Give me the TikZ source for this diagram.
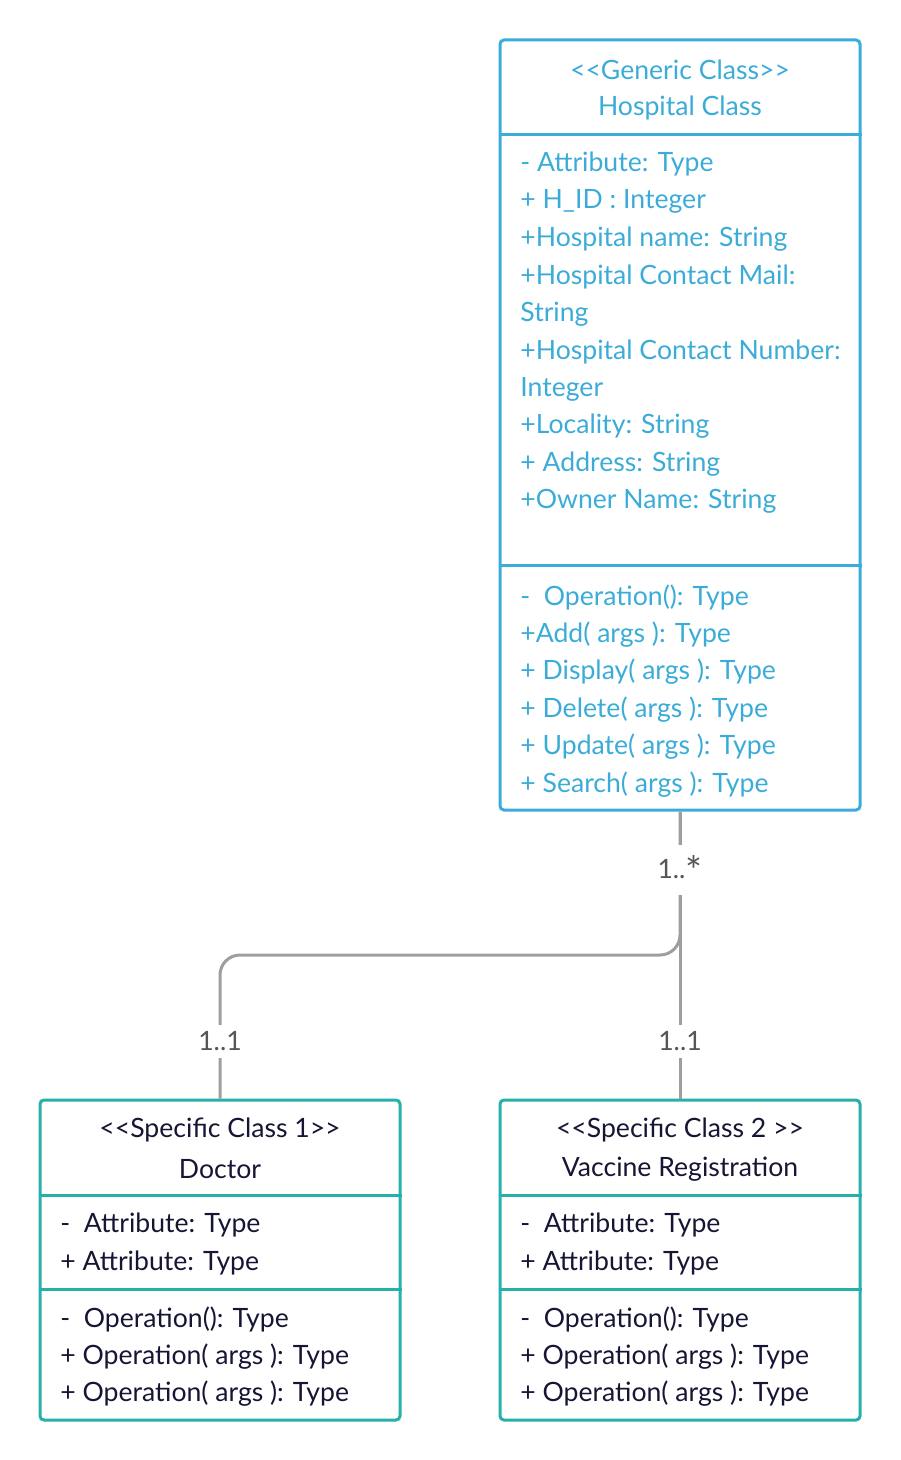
\documentclass[tikz,border=0pt]{standalone}
\usepackage{fontspec}
\setmainfont{Lato}
\usetikzlibrary{positioning}
\definecolor{hospblue}{RGB}{59,172,216}
\definecolor{clsteal}{RGB}{38,176,170}
\definecolor{inkdark}{RGB}{22,22,52}
\definecolor{linegrey}{RGB}{158,158,158}
\definecolor{labelgrey}{RGB}{85,85,85}
\newcommand{\bigstar}{\raisebox{-0.45ex}{\scalebox{1.5}{*}}}

\begin{document}
\begin{tikzpicture}[x=0.5pt,y=-0.5pt,
  classbox/.style={draw, line width=1.5pt, rounded corners=2pt, minimum width=180pt, inner sep=0pt},
  item/.style={anchor=west, inner sep=0pt, font=\fontsize{13.3}{16}\selectfont},
  title/.style={inner sep=0pt, font=\fontsize{13.3}{16}\selectfont},
  divider/.style={line width=1.5pt},
  assoc/.style={draw=linegrey, line width=1.5pt},
  mult/.style={fill=white, text=labelgrey, inner sep=0pt, minimum width=30pt, font=\fontsize{13.3}{16}\selectfont}]
\useasboundingbox (0,0) rectangle (900,1460);

% generic class
\node[classbox, draw=hospblue, minimum height=385pt] (hosp) at (680,425) {};
\draw[divider, hospblue] (hosp.west |- 0,135) -- (hosp.east |- 0,135);
\draw[divider, hospblue] (hosp.west |- 0,565) -- (hosp.east |- 0,565);
\node[title, text=hospblue] (hospst) at (680,70) {<{}<Generic Class>{}>};
\node[title, text=hospblue] (hospname) at (680,108) {Hospital Class};
\foreach \t [count=\i] in {- Attribute: Type, + H\_ID : Integer, +Hospital name: String,
    +Hospital Contact Mail:, String, +Hospital Contact Number:, Integer,
    +Locality: String, + Address: String, +Owner Name: String}
  \node[item, text=hospblue] (hattr\i) at (520,164+37.5*\i-37.5) {\t};
\foreach \t [count=\i] in {-\ \ Operation(): Type, +Add( args ): Type, + Display( args ): Type,
    + Delete( args ): Type, + Update( args ): Type, + Search( args ): Type}
  \node[item, text=hospblue] (hop\i) at (520,597+37.5*\i-37.5) {\t};

% specific classes
\node[classbox, draw=clsteal, minimum height=160pt] (doc) at (220,1260) {};
\node[classbox, draw=clsteal, minimum height=160pt] (vacc) at (680,1260) {};
\foreach \b in {doc,vacc} {
  \draw[divider, clsteal] (\b.west |- 0,1195) -- (\b.east |- 0,1195);
  \draw[divider, clsteal] (\b.west |- 0,1289) -- (\b.east |- 0,1289);
}
\node[title, text=inkdark] (docst) at (220,1130) {<{}<Specific Class 1>{}>};
\node[title, text=inkdark] (docname) at (220,1169) {Doctor};
\node[title, text=inkdark] (vaccst) at (680,1130) {<{}<Specific Class 2 >{}>};
\node[title, text=inkdark] (vaccname) at (680,1169) {Vaccine Registration};
\foreach \b/\x in {doc/60,vacc/520} {
  \node[item, text=inkdark] (\b a1) at (\x,1225) {-\ \ Attribute: Type};
  \node[item, text=inkdark] (\b a2) at (\x,1263) {+ Attribute: Type};
  \node[item, text=inkdark] (\b o1) at (\x,1319) {-\ \ Operation(): Type};
  \node[item, text=inkdark] (\b o2) at (\x,1357) {+ Operation( args ): Type};
  \node[item, text=inkdark] (\b o3) at (\x,1394) {+ Operation( args ): Type};
}

% associations
\coordinate (bend) at (220,955);
\draw[assoc, rounded corners=10pt] (hosp.south) |- (bend) -- (doc.north);
\draw[assoc] (hosp.south) -- (vacc.north);
\node[mult, minimum height=25pt] (mhosp) at (680,870) {1..\bigstar};
\node[mult, minimum height=16.5pt] (mdoc) at (220,1041) {1..1};
\node[mult, minimum height=16.5pt] (mvacc) at (680,1041) {1..1};
\end{tikzpicture}
\end{document}
